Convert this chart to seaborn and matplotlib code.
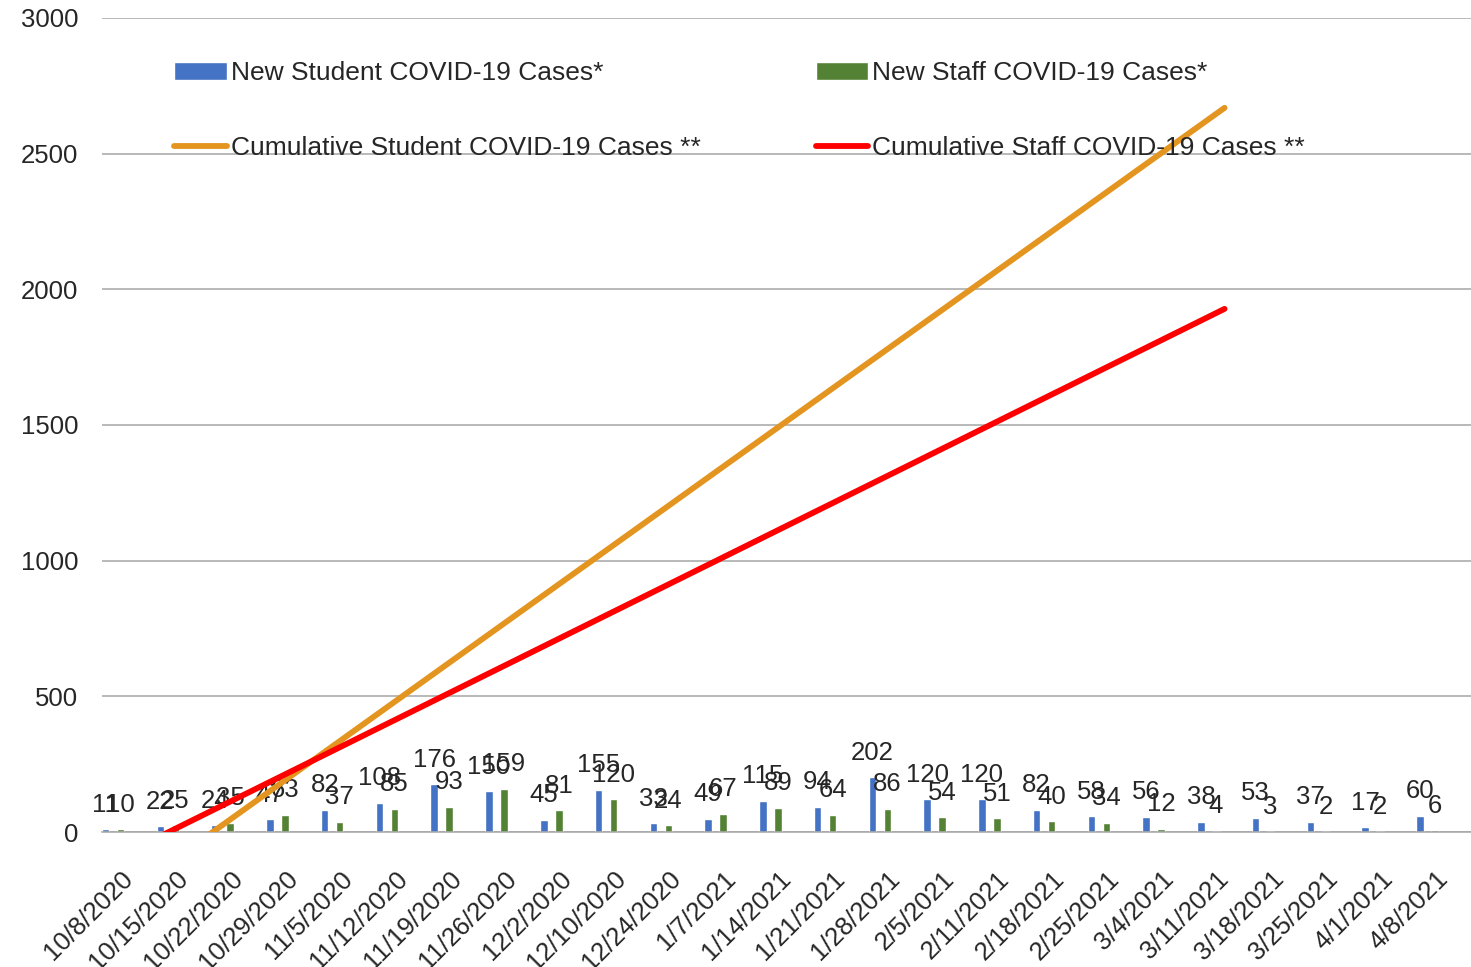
import matplotlib
matplotlib.use("Agg")
import matplotlib.pyplot as plt
import seaborn as sns
import numpy as np

dates = ['10/8/2020', '10/15/2020', '10/22/2020', '10/29/2020', '11/5/2020',
         '11/12/2020', '11/19/2020', '11/26/2020', '12/2/2020', '12/10/2020',
         '12/24/2020', '1/7/2021', '1/14/2021', '1/21/2021', '1/28/2021',
         '2/5/2021', '2/11/2021', '2/18/2021', '2/25/2021', '3/4/2021',
         '3/11/2021', '3/18/2021', '3/25/2021', '4/1/2021', '4/8/2021']
new_student = [11, 22, 24, 47, 82, 108, 176, 150, 45, 155, 33, 49, 115, 94,
               202, 120, 120, 82, 58, 56, 38, 53, 37, 17, 60]
new_staff = [10, 25, 35, 63, 37, 85, 93, 159, 81, 120, 24, 67, 89, 64,
             86, 54, 51, 40, 34, 12, 4, 3, 2, 2, 6]

# cumulative lines are just two points each in the original (start gets clipped at 0)
cum_dates = ['10/8/2020', '3/11/2021']
cum_student = [-220, 2669]
cum_staff = [-72, 1928]

sns.set_style("white")
plt.rcParams['font.family'] = ['Liberation Sans', 'DejaVu Sans']

fig = plt.figure(figsize=(14.71, 9.67), dpi=100)
ax = fig.add_axes([0.0693, 0.1396, 0.9307, 0.8418])

idx = np.arange(len(dates))
bar_w = 0.137
sns.barplot(x=idx + 0.068, y=new_student, native_scale=True, width=bar_w,
            color='#4472C4', saturation=1, label='New Student COVID-19 Cases*', ax=ax)
ax.bar_label(ax.containers[-1], padding=9, fontsize=18.5)
sns.barplot(x=idx + 0.342, y=new_staff, native_scale=True, width=bar_w,
            color='#548235', saturation=1, label='New Staff COVID-19 Cases*', ax=ax)
ax.bar_label(ax.containers[-1], padding=9, fontsize=18.5)

cum_x = [dates.index(d) + 0.5 for d in cum_dates]
sns.lineplot(x=cum_x, y=cum_student, color='#E3951F', linewidth=4.2,
             solid_capstyle='round', zorder=5,
             label='Cumulative Student COVID-19 Cases **', ax=ax)
sns.lineplot(x=cum_x, y=cum_staff, color='#FF0000', linewidth=4.2,
             solid_capstyle='round', zorder=5,
             label='Cumulative Staff COVID-19 Cases **', ax=ax)

ax.set_xlim(0, len(dates))
ax.set_ylim(0, 3000)
ax.set_yticks(range(0, 3001, 500))
ax.yaxis.grid(True, color='#a6a6a6', linewidth=1.1)
ax.set_axisbelow(True)
for s in ['top', 'right', 'left']:
    ax.spines[s].set_visible(False)
ax.spines['bottom'].set_color('#a6a6a6')
ax.spines['bottom'].set_linewidth(1.1)

# labels sit a little left of the slot centre, like the original
ax.set_xticks(idx + 0.35)
ax.set_xticklabels(dates, rotation=45, ha='right', rotation_mode='anchor')
ax.set_xticks(np.arange(len(dates) + 1), minor=True)
ax.tick_params(axis='x', which='major', length=0, pad=25, labelsize=18.5)
ax.tick_params(axis='x', which='minor', length=6, color='#a6a6a6', width=1.1)
ax.tick_params(axis='y', length=0, pad=17, labelsize=18.5)
ax.set_xlabel('')
ax.set_ylabel('')

h, l = ax.get_legend_handles_labels()
order = [l.index('New Student COVID-19 Cases*'), l.index('Cumulative Student COVID-19 Cases **'),
         l.index('New Staff COVID-19 Cases*'), l.index('Cumulative Staff COVID-19 Cases **')]
ax.legend([h[i] for i in order], [l[i] for i in order], ncol=2, frameon=False,
          loc='upper left', bbox_to_anchor=(0.045, 0.960), fontsize=19,
          handlelength=2.0, handletextpad=0.15, labelspacing=1.93,
          columnspacing=4.35, borderaxespad=0)

fig.savefig('out.png', dpi=100)
